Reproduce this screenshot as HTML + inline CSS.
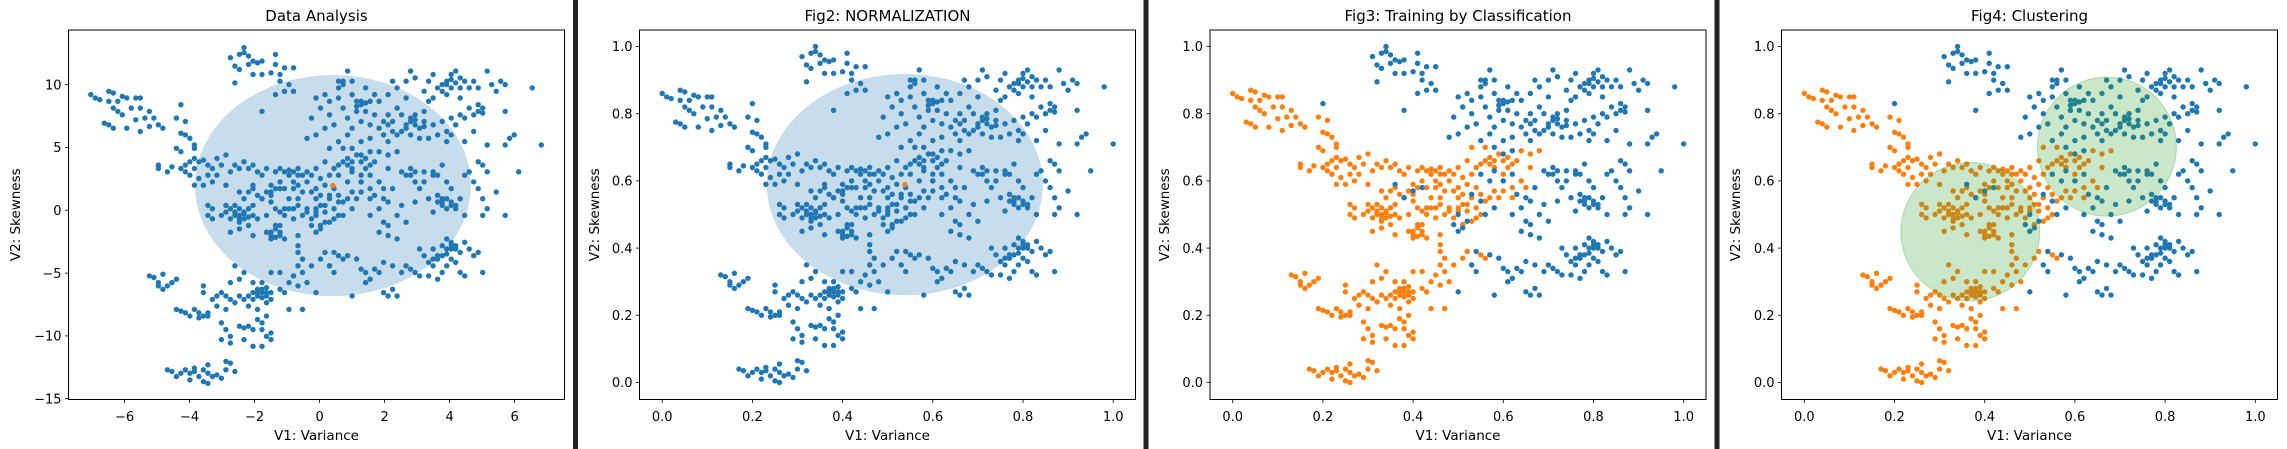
<!DOCTYPE html>
<html><head><meta charset="utf-8">
<style>
html,body{margin:0;padding:0;background:#fff;}
svg{display:block;}
text{font-family:"DejaVu Sans","Liberation Sans",sans-serif;fill:#000;}
</style></head>
<body>
<svg id="chart" width="2287" height="449" viewBox="0 0 2287 449" xmlns="http://www.w3.org/2000/svg"></svg>
<script>
// Normalized data (V1 variance, V2 skewness), class 1 (orange) and class 0 (blue)
const orangePoints = [
[0.00,0.86],[0.01,0.85],[0.02,0.845],[0.04,0.87],[0.05,0.865],[0.06,0.84],[0.07,0.855],[0.08,0.85],[0.10,0.85],[0.11,0.85],[0.04,0.84],[0.06,0.81],[0.05,0.82],[0.09,0.82],[0.11,0.82],[0.13,0.81],[0.12,0.79],[0.14,0.79],[0.03,0.775],[0.04,0.77],[0.05,0.76],[0.08,0.76],[0.11,0.75],[0.13,0.765],[0.15,0.77],[0.16,0.76],[0.10,0.785],[0.07,0.80],
[0.19,0.79],[0.21,0.78],[0.20,0.745],[0.21,0.74],[0.22,0.73],[0.19,0.70],[0.20,0.69],[0.23,0.70],[0.23,0.71],
[0.15,0.64],[0.15,0.65],[0.17,0.63],[0.18,0.645],[0.20,0.64],[0.21,0.65],[0.22,0.66],[0.23,0.67],[0.24,0.66],[0.25,0.665],[0.22,0.62],[0.24,0.61],[0.26,0.62],[0.28,0.67],[0.27,0.64],[0.25,0.59],[0.23,0.59],[0.27,0.60],[0.30,0.59],[0.30,0.68],[0.29,0.65],[0.32,0.65],[0.34,0.66],[0.35,0.64],[0.37,0.63],[0.39,0.64],[0.41,0.63],[0.43,0.63],[0.44,0.62],[0.46,0.64],[0.47,0.62],[0.49,0.62],[0.48,0.60],[0.45,0.60],[0.42,0.60],[0.40,0.59],[0.36,0.58],[0.33,0.57],[0.34,0.55],[0.37,0.56],[0.40,0.56],[0.43,0.58],[0.45,0.58],[0.47,0.57],[0.50,0.58],[0.52,0.59],[0.50,0.64],[0.52,0.66],[0.53,0.62],[0.55,0.65],[0.56,0.66],[0.57,0.65],[0.58,0.64],[0.60,0.66],[0.61,0.67],[0.62,0.65],[0.63,0.66],[0.64,0.69],[0.59,0.68],[0.56,0.70],[0.53,0.70],[0.66,0.68],[0.68,0.69],[0.66,0.64],[0.60,0.62],[0.60,0.60],[0.58,0.57],[0.55,0.56],[0.54,0.58],[0.53,0.55],[0.56,0.54],[0.59,0.55],[0.62,0.55],[0.62,0.58],[0.64,0.60],[0.65,0.58],
[0.21,0.63],[0.23,0.64],[0.26,0.65],[0.28,0.62],[0.31,0.63],[0.33,0.64],[0.36,0.65],[0.38,0.62],[0.42,0.64],[0.44,0.635],[0.45,0.63],[0.46,0.62],[0.48,0.63],[0.51,0.61],[0.54,0.64],[0.57,0.67],[0.58,0.66],[0.61,0.64],[0.35,0.57],[0.39,0.57],[0.41,0.58],[0.46,0.59],[0.49,0.57],[0.51,0.56],[0.57,0.55],[0.6,0.57],
[0.26,0.53],[0.27,0.52],[0.26,0.50],[0.27,0.49],[0.29,0.50],[0.30,0.53],[0.31,0.52],[0.32,0.51],[0.33,0.50],[0.34,0.51],[0.35,0.52],[0.36,0.50],[0.33,0.48],[0.35,0.47],[0.37,0.49],[0.39,0.50],[0.41,0.52],[0.42,0.51],[0.44,0.52],[0.46,0.53],[0.48,0.52],[0.50,0.52],[0.52,0.53],[0.54,0.52],[0.55,0.50],[0.53,0.48],[0.51,0.47],[0.49,0.49],[0.47,0.50],[0.45,0.49],[0.43,0.50],[0.41,0.46],[0.39,0.45],[0.40,0.44],[0.41,0.435],[0.42,0.44],[0.43,0.43],[0.41,0.47],[0.33,0.46],[0.31,0.45],[0.36,0.44],[0.38,0.55],[0.40,0.54],[0.44,0.55],[0.46,0.55],[0.50,0.55],[0.52,0.51],[0.54,0.49],[0.32,0.53],[0.34,0.49],[0.30,0.51],[0.36,0.53],
[0.32,0.50],[0.33,0.52],[0.34,0.505],[0.35,0.495],[0.33,0.49],[0.31,0.49],[0.40,0.45],[0.42,0.45],[0.40,0.43],[0.42,0.47],[0.48,0.51],[0.50,0.51],[0.51,0.53],[0.45,0.52],[0.43,0.52],
[0.46,0.44],[0.46,0.41],[0.46,0.39],[0.47,0.37],[0.46,0.35],[0.47,0.33],[0.45,0.32],[0.44,0.30],[0.46,0.29],[0.43,0.27],[0.47,0.22],[0.44,0.22],[0.49,0.35],[0.48,0.30],[0.51,0.37],[0.52,0.39],[0.53,0.35],[0.55,0.38],[0.56,0.37],
[0.13,0.32],[0.14,0.315],[0.15,0.30],[0.16,0.325],[0.17,0.29],[0.18,0.30],[0.19,0.31],[0.15,0.29],[0.16,0.28],
[0.25,0.29],[0.25,0.27],[0.27,0.25],[0.28,0.26],[0.29,0.27],[0.30,0.26],[0.31,0.25],[0.32,0.24],[0.33,0.26],[0.34,0.25],[0.35,0.26],[0.36,0.27],[0.37,0.28],[0.38,0.27],[0.39,0.26],[0.40,0.25],[0.38,0.30],[0.36,0.30],[0.31,0.30],[0.32,0.35],[0.34,0.33],[0.33,0.31],[0.40,0.33],[0.42,0.33],[0.39,0.24],[0.37,0.22],[0.35,0.23],[0.30,0.22],[0.28,0.23],[0.26,0.21],[0.42,0.28],[0.37,0.26],[0.38,0.28],[0.39,0.27],
[0.37,0.27],[0.38,0.255],[0.39,0.285],[0.36,0.25],[0.40,0.27],
[0.19,0.22],[0.20,0.215],[0.21,0.21],[0.22,0.20],[0.23,0.22],[0.24,0.21],[0.25,0.20],[0.26,0.20],[0.24,0.195],
[0.29,0.18],[0.30,0.16],[0.31,0.14],[0.29,0.13],[0.31,0.12],[0.33,0.17],[0.34,0.165],[0.35,0.17],[0.36,0.16],[0.37,0.19],[0.38,0.18],[0.39,0.20],[0.38,0.16],[0.39,0.14],[0.40,0.13],[0.40,0.15],[0.36,0.11],[0.38,0.11],[0.34,0.13],
[0.17,0.04],[0.18,0.035],[0.19,0.02],[0.20,0.03],[0.21,0.04],[0.22,0.03],[0.23,0.035],[0.24,0.02],[0.25,0.04],[0.26,0.03],[0.27,0.02],[0.28,0.025],[0.30,0.04],[0.31,0.06],[0.30,0.065],[0.32,0.035],[0.22,0.01],[0.25,0.005],[0.26,0.00],[0.29,0.015],[0.23,0.045],[0.26,0.055]
];
const bluePoints = [
[0.31,0.97],[0.32,0.945],[0.33,0.98],[0.34,1.00],[0.34,0.985],[0.35,0.975],[0.33,0.935],[0.35,0.95],[0.36,0.96],[0.37,0.955],[0.38,0.96],[0.36,0.92],[0.38,0.92],[0.41,0.98],[0.41,0.95],[0.40,0.925],[0.42,0.92],[0.43,0.94],[0.45,0.94],[0.42,0.90],[0.44,0.89],[0.45,0.87],[0.43,0.87],[0.41,0.86],[0.32,0.895],[0.38,0.81],[0.20,0.83],
[0.49,0.79],[0.50,0.74],[0.51,0.82],[0.52,0.86],[0.53,0.84],[0.53,0.80],[0.54,0.77],[0.55,0.85],[0.55,0.90],[0.56,0.89],[0.57,0.93],[0.56,0.82],[0.57,0.79],[0.58,0.76],[0.58,0.86],[0.59,0.84],[0.60,0.83],[0.61,0.81],[0.61,0.88],[0.62,0.84],[0.63,0.80],[0.62,0.77],[0.64,0.76],[0.65,0.74],[0.66,0.80],[0.67,0.78],[0.68,0.82],[0.69,0.75],[0.70,0.77],[0.71,0.79],[0.72,0.80],[0.73,0.76],[0.74,0.78],[0.73,0.73],[0.75,0.73],[0.76,0.77],[0.78,0.78],[0.79,0.75],[0.80,0.74],[0.81,0.77],[0.82,0.80],[0.83,0.79],[0.84,0.82],[0.85,0.80],[0.86,0.83],[0.87,0.82],[0.85,0.75],[0.88,0.71],[0.83,0.72],[0.79,0.72],[0.66,0.86],[0.67,0.90],[0.68,0.88],[0.70,0.85],[0.71,0.93],[0.72,0.91],[0.74,0.87],[0.75,0.84],[0.76,0.92],[0.77,0.88],[0.78,0.89],[0.79,0.90],[0.80,0.92],[0.81,0.93],[0.82,0.91],[0.83,0.90],[0.84,0.88],[0.85,0.90],[0.80,0.88],[0.79,0.86],[0.76,0.85],[0.88,0.93],[0.89,0.89],[0.91,0.90],[0.92,0.89],[0.90,0.87],[0.92,0.81],[0.93,0.73],[0.92,0.71],[0.94,0.74],[0.98,0.88],[1.00,0.71],[0.60,0.72],[0.62,0.73],[0.58,0.70],[0.55,0.72],[0.57,0.74],[0.64,0.84],[0.66,0.72],[0.69,0.80],[0.74,0.81],[0.77,0.74],[0.71,0.74],[0.63,0.86],[0.60,0.78],[0.52,0.76],[0.48,0.73],[0.50,0.85],[0.58,0.90],[0.70,0.90],[0.75,0.90],[0.82,0.85],[0.86,0.88],[0.68,0.74],[0.65,0.78],[0.72,0.77],[0.80,0.79],[0.59,0.81],
[0.79,0.89],[0.80,0.905],[0.81,0.895],[0.78,0.87],[0.82,0.88],[0.60,0.84],[0.61,0.835],[0.59,0.825],[0.71,0.78],[0.72,0.785],[0.70,0.76],[0.74,0.765],[0.66,0.77],[0.67,0.75],[0.86,0.81],[0.87,0.805],[0.56,0.90],[0.55,0.88],
[0.60,0.60],[0.62,0.62],[0.63,0.56],[0.64,0.52],[0.65,0.48],[0.66,0.54],[0.67,0.58],[0.68,0.50],[0.69,0.53],[0.70,0.62],[0.71,0.64],[0.72,0.60],[0.73,0.58],[0.74,0.63],[0.75,0.55],[0.76,0.62],[0.77,0.56],[0.78,0.54],[0.79,0.60],[0.80,0.53],[0.81,0.52],[0.82,0.55],[0.83,0.62],[0.84,0.63],[0.85,0.60],[0.86,0.58],[0.87,0.55],[0.88,0.52],[0.87,0.50],[0.86,0.66],[0.87,0.65],[0.88,0.63],[0.90,0.57],[0.92,0.50],[0.95,0.63],[0.72,0.54],[0.70,0.48],[0.66,0.47],[0.64,0.45],[0.62,0.50],[0.78,0.65],[0.80,0.58],[0.76,0.51],[0.83,0.50],[0.74,0.60],[0.58,0.52],[0.56,0.50],[0.55,0.54],[0.52,0.48],[0.50,0.45],[0.49,0.47],[0.53,0.56],[0.57,0.60],[0.55,0.62],[0.58,0.63],[0.60,0.68],[0.62,0.69],[0.40,0.57],[0.38,0.55],[0.36,0.59],[0.42,0.58],[0.50,0.50],[0.51,0.46],[0.77,0.54],[0.79,0.55],[0.81,0.53],[0.69,0.63],[0.65,0.55],
[0.71,0.62],[0.72,0.63],[0.76,0.63],[0.77,0.62],[0.78,0.55],[0.80,0.54],[0.79,0.52],[0.78,0.53],
[0.54,0.39],[0.57,0.38],[0.59,0.37],[0.60,0.34],[0.61,0.33],[0.62,0.31],[0.63,0.34],[0.64,0.33],[0.65,0.27],[0.66,0.26],[0.67,0.28],[0.68,0.26],[0.69,0.33],[0.70,0.35],[0.71,0.34],[0.72,0.33],[0.73,0.40],[0.74,0.38],[0.75,0.36],[0.76,0.35],[0.77,0.37],[0.78,0.38],[0.79,0.40],[0.80,0.42],[0.81,0.41],[0.82,0.39],[0.83,0.42],[0.84,0.40],[0.85,0.38],[0.86,0.39],[0.80,0.37],[0.78,0.33],[0.77,0.31],[0.82,0.33],[0.83,0.32],[0.87,0.33],[0.75,0.32],[0.73,0.32],[0.67,0.35],[0.65,0.36],[0.66,0.44],[0.68,0.43],[0.58,0.26],[0.61,0.30],[0.53,0.35],[0.50,0.27],[0.54,0.33],[0.79,0.35],[0.81,0.36],[0.76,0.40],[0.80,0.40],[0.79,0.43],[0.78,0.41],
[0.80,0.41],[0.81,0.40],[0.79,0.385],[0.77,0.38],[0.76,0.37]
];
// raw-scale ranges for panel 1 (denormalization)
const rawV1Range = [-7.04, 6.82];
const rawV2Range = [-13.77, 12.95];
const centroidRaw = [0.41, 1.97];
const centroidNorm = [0.538, 0.589];
const clusterCenters = [[0.368, 0.449], [0.671, 0.702]];
const clusterRadii = [[0.154, 0.206], [0.154, 0.207]];
const rawXTicks = [-6, -4, -2, 0, 2, 4, 6];
const rawYTicks = [-15, -10, -5, 0, 5, 10];
const normTicks = [0.0, 0.2, 0.4, 0.6, 0.8, 1.0];
const panelTitles = ["Data Analysis", "Fig2: NORMALIZATION", "Fig3: Training by Classification", "Fig4: Clustering"];

const NS = "http://www.w3.org/2000/svg";
const svg = document.getElementById('chart');
const BLUE = "#1f77b4", ORANGE = "#ff7f0e";
function mk(tag, attrs, parent) {
  const e = document.createElementNS(NS, tag);
  for (const k in attrs) e.setAttribute(k, attrs[k]);
  (parent || svg).appendChild(e);
  return e;
}
function fmtMinus(v){ return v < 0 ? "\u2212" + Math.abs(v) : String(v); }

const TOP = 30, BOT = 399.5, W = 496;
const panels = [
  {L: 68.5,  sx: v => 319.6 + v * 32.5, sy: v => 210.3 - v * 12.56, xt: rawXTicks, yt: rawYTicks, fmt: fmtMinus, ylab: 15},
  {L: 639.5, sx: v => 662.2 + v * 451,  sy: v => 382.5 - v * 336, xt: normTicks, yt: normTicks, fmt: v => v.toFixed(1), ylab: 594},
  {L: 1210,  sx: v => 1232.7 + v * 451, sy: v => 382.5 - v * 336, xt: normTicks, yt: normTicks, fmt: v => v.toFixed(1), ylab: 1164},
  {L: 1781.5,sx: v => 1804.3 + v * 451, sy: v => 382.5 - v * 336, xt: normTicks, yt: normTicks, fmt: v => v.toFixed(1), ylab: 1735}
];
function toRaw(p){ return [rawV1Range[0] + p[0]*(rawV1Range[1]-rawV1Range[0]), rawV2Range[0] + p[1]*(rawV2Range[1]-rawV2Range[0])]; }

[573, 1143.5, 1714.5].forEach((x, i) => {
  const r = mk('rect', {x: x, y: 0, width: 5, height: 449, fill: '#222'});
  
  
});

panels.forEach((P, i) => {
  const g = mk('g', {});
  
  
  const cx0 = P.L + W/2;
  const t = mk('text', {x: cx0, y: 21, 'text-anchor': 'middle', 'font-size': '15'}, g);
  t.textContent = panelTitles[i];
  
  

  const clip = mk('clipPath', {id: 'clip' + i}, g);
  mk('rect', {x: P.L, y: TOP, width: W, height: BOT - TOP}, clip);
  const plot = mk('g', {'clip-path': 'url(#clip' + i + ')'}, g);
  
  

  if (i === 0 || i === 1) {
    const c = i === 0 ? centroidRaw : centroidNorm;
    const e = mk('ellipse', {cx: P.sx(c[0]), cy: P.sy(c[1]), rx: 138, ry: 110.6, fill: BLUE, 'fill-opacity': 0.25}, plot);
    
    
  }
  const all = orangePoints.map(p => [p, 1]).concat(bluePoints.map(p => [p, 0]));
  all.forEach(([p, cls]) => {
    const q = i === 0 ? toRaw(p) : p;
    const col = (i >= 2 && cls === 1) ? ORANGE : BLUE;
    const d = mk('circle', {cx: P.sx(q[0]).toFixed(1), cy: P.sy(q[1]).toFixed(1), r: 2.7, fill: col}, plot);
    
    
  });
  if (i === 0 || i === 1) {
    const c = i === 0 ? centroidRaw : centroidNorm;
    const d = mk('circle', {cx: P.sx(c[0]), cy: P.sy(c[1]), r: 2.7, fill: ORANGE}, plot);
    
    
  }
  if (i === 3) {
    clusterCenters.forEach((c, k) => {
      const e = mk('ellipse', {cx: P.sx(c[0]), cy: P.sy(c[1]), rx: clusterRadii[k][0]*451, ry: clusterRadii[k][1]*336,
        fill: '#2ca02c', 'fill-opacity': 0.25, stroke: '#2ca02c', 'stroke-opacity': 0.3, 'stroke-width': 1}, plot);
      
      
    });
  }
  const fr = mk('rect', {x: P.L, y: TOP, width: W, height: BOT - TOP, fill: 'none', stroke: '#000', 'stroke-width': 1}, g);
  
  

  P.xt.forEach(v => {
    const x = P.sx(v);
    mk('line', {x1: x, x2: x, y1: BOT, y2: BOT + 3.5, stroke: '#000', 'stroke-width': 0.8}, g);
    const tl = mk('text', {x: x, y: 421, 'text-anchor': 'middle', 'font-size': '13'}, g);
    tl.textContent = P.fmt(v);
    
    
  });
  P.yt.forEach(v => {
    const y = P.sy(v);
    mk('line', {x1: P.L - 3.5, x2: P.L, y1: y, y2: y, stroke: '#000', 'stroke-width': 0.8}, g);
    const tl = mk('text', {x: P.L - 7, y: y + 4.7, 'text-anchor': 'end', 'font-size': '13'}, g);
    tl.textContent = P.fmt(v);
    
    
  });
  const xl = mk('text', {x: cx0, y: 440, 'text-anchor': 'middle', 'font-size': '13.5'}, g);
  xl.textContent = 'V1: Variance';
  
  
  const ym = (TOP + BOT) / 2;
  const yl = mk('text', {x: P.ylab + 5, y: ym, 'text-anchor': 'middle', 'font-size': '13.5', transform: 'rotate(-90 ' + (P.ylab + 5) + ' ' + ym + ')'}, g);
  yl.textContent = 'V2: Skewness';
  
  
});
</script>
</body></html>
